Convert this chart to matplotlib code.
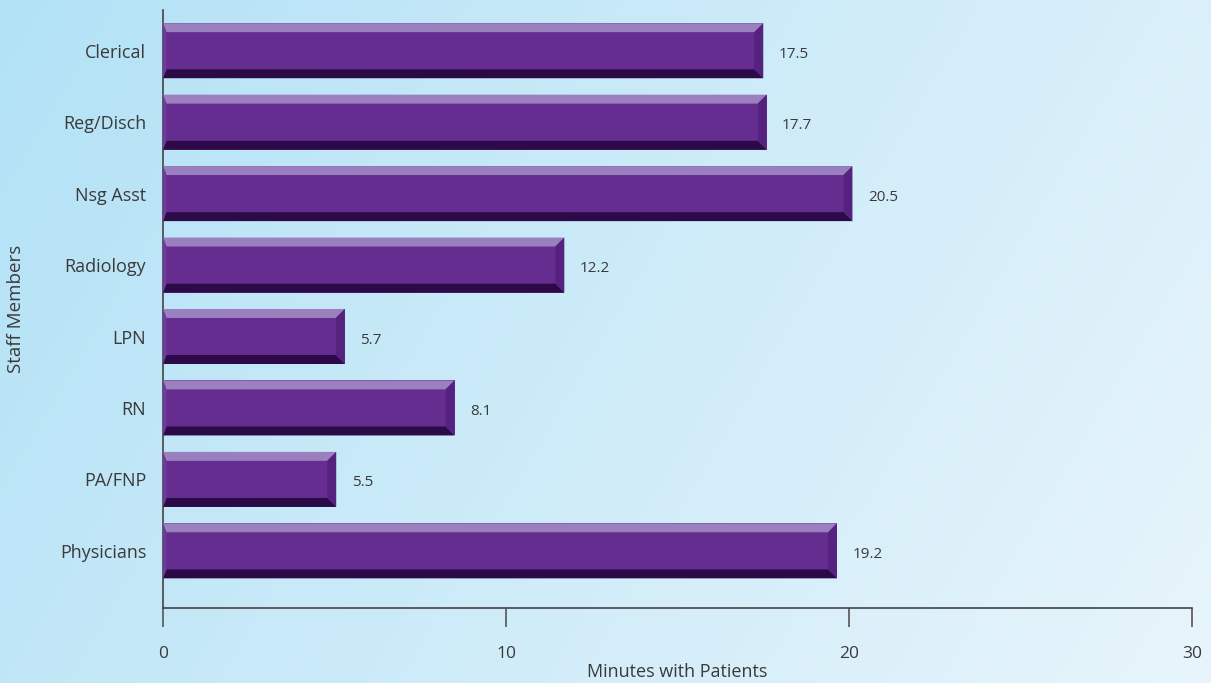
import numpy as np
import matplotlib
matplotlib.use("Agg")
import matplotlib.pyplot as plt
from matplotlib.patches import Polygon

# data, bottom to top
staff = ["Physicians", "PA/FNP", "RN", "LPN", "Radiology", "Nsg Asst", "Reg/Disch", "Clerical"]
bar_minutes = [19.65, 5.05, 8.5, 5.3, 11.7, 20.1, 17.6, 17.5]   # lengths as drawn
printed = ["19.2", "5.5", "8.1", "5.7", "12.2", "20.5", "17.7", "17.5"]  # labels as printed
xticks = [0, 10, 20, 30]

plt.rcParams['font.family'] = ['Open Sans', 'DejaVu Sans']
txt = "#3a3a3a"

fig = plt.figure(figsize=(12.11, 6.83), dpi=100)

# background gradient
bg = fig.add_axes([0, 0, 1, 1])
gx = np.linspace(0, 1, 300)
gy = np.linspace(0, 1, 200)
X, Y = np.meshgrid(gx, gy)
t = np.clip(0.75 * X + 0.25 * Y, 0, 1)
c0 = np.array([0.70, 0.885, 0.965])
c1 = np.array([0.91, 0.96, 0.985])
img = c0[None, None, :] * (1 - t[..., None]) + c1[None, None, :] * t[..., None]
bg.imshow(img, aspect="auto", extent=[0, 1, 0, 1], origin="upper")
bg.axis("off")

ax = fig.add_axes([163/1211, 1 - 608/683, (1192 - 163)/1211, (608 - 10)/683])
ax.patch.set_alpha(0)

y = np.arange(len(staff))
h = 0.77
ax.barh(y, bar_minutes, height=h, color="#662d91", zorder=2)

# bevel edges
bx = 0.26   # horizontal bevel in data units
by = 0.125  # vertical bevel in data units
lx = 0.1
for yi, w in zip(y, bar_minutes):
    top = yi + h/2
    bot = yi - h/2
    # top strip (light)
    ax.add_patch(Polygon([(0, top), (w, top), (w - bx, top - by), (lx, top - by)],
                         closed=True, color="#9b80c0", zorder=3, lw=0))
    # bottom strip (dark)
    ax.add_patch(Polygon([(0, bot), (w, bot), (w - bx, bot + by), (lx, bot + by)],
                         closed=True, color="#2c0a47", zorder=3, lw=0))
    # right strip
    ax.add_patch(Polygon([(w, top), (w, bot), (w - bx, bot + by), (w - bx, top - by)],
                         closed=True, color="#55237f", zorder=3, lw=0))
    # left strip
    ax.add_patch(Polygon([(0, top), (0, bot), (lx, bot + by), (lx, top - by)],
                         closed=True, color="#6e3a9c", zorder=3, lw=0))

for yi, w, lab in zip(y, bar_minutes, printed):
    ax.text(w + 0.45, yi - 0.05, lab, va="center", ha="left", fontsize=11, color=txt)

ax.set_xlim(0, 30)
ax.set_ylim(-0.8, 7.57)
ax.set_yticks(y)
ax.set_yticklabels(staff, fontsize=13, color=txt)
ax.set_xticks(xticks)
ax.set_xticklabels([str(v) for v in xticks], fontsize=12.5, color=txt)
ax.tick_params(axis="y", length=0, pad=12)
ax.tick_params(axis="x", length=14, width=1.2, color="#555555", pad=13, direction="out")
for s in ["top", "right"]:
    ax.spines[s].set_visible(False)
for s in ["left", "bottom"]:
    ax.spines[s].set_color("#444444")
    ax.spines[s].set_linewidth(1.2)

ax.set_xlabel("Minutes with Patients", fontsize=13, color=txt, labelpad=1)
ax.set_ylabel("Staff Members", fontsize=13.5, color=txt, labelpad=25)

fig.savefig("out.png", dpi=100)
